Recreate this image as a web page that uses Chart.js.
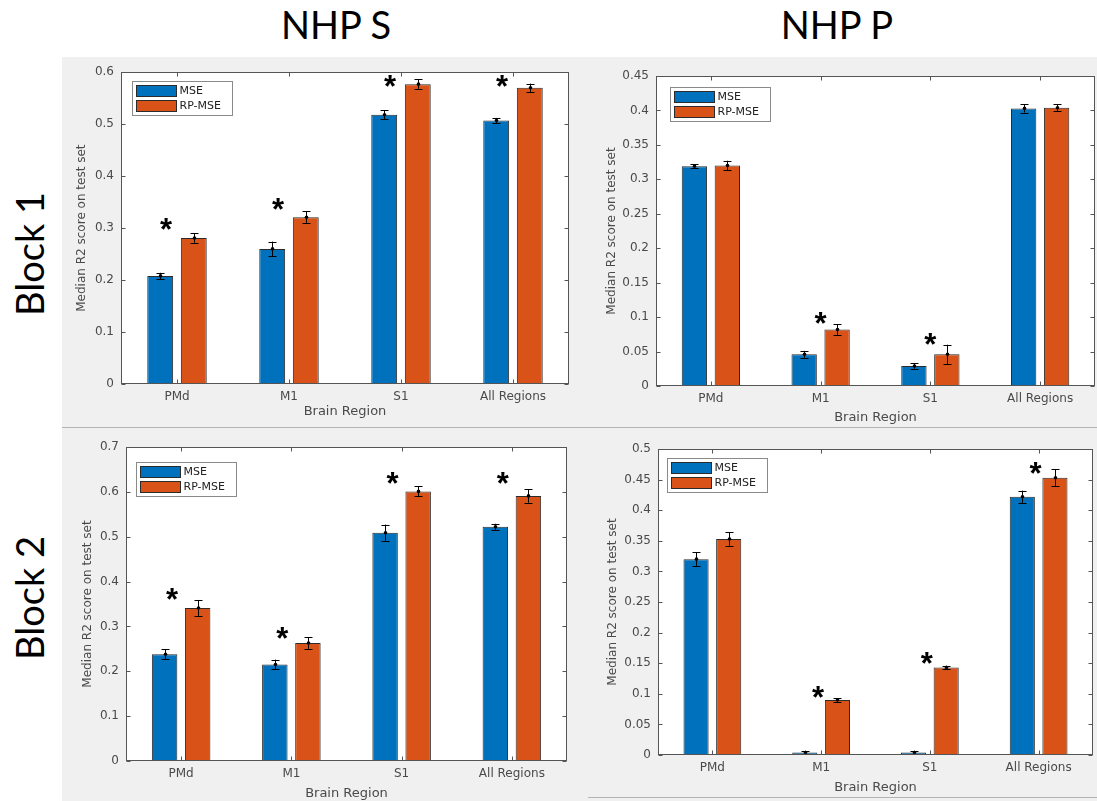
<!DOCTYPE html>
<html><head><meta charset="utf-8">
<script src="https://cdn.jsdelivr.net/npm/chart.js@4/dist/chart.umd.min.js"></script>
<style>
html,body{margin:0;padding:0;background:#fff;}
body{width:1097px;height:801px;position:relative;overflow:hidden;}
#bg{position:absolute;left:62px;top:57px;width:1035px;height:744px;background:#f0f0f0;}
.hl{position:absolute;height:1px;background:#b4b4b4;}
.big{position:absolute;font-family:Lato,"Open Sans",sans-serif;font-size:38px;color:#000;white-space:nowrap;line-height:1;}
.rot{transform:translate(-50%,-50%) rotate(-90deg);}
.hz{transform:translate(-50%,-50%);}
canvas{position:absolute;}
</style></head><body>
<div id="bg"></div>
<div class="hl" style="left:62px;top:427px;width:1035px;"></div>
<div class="hl" style="left:588px;top:797px;width:509px;"></div>
<div class="big hz" style="left:336px;top:24px;">NHP S</div>
<div class="big hz" style="left:837px;top:24px;">NHP P</div>
<div class="big rot" style="left:29px;top:254px;">Block 1</div>
<div class="big rot" style="left:29px;top:598px;">Block 2</div>
<canvas id="c1"></canvas><canvas id="c2"></canvas><canvas id="c3"></canvas><canvas id="c4"></canvas>
<script>
// ---------- data ----------
const categories = ['PMd', 'M1', 'S1', 'All Regions'];
const seriesLabels = ['MSE', 'RP-MSE'];
const xTitle = 'Brain Region';
const yTitle = 'Median R2 score on test set';

// NHP S, Block 1
const sB1Mse    = [0.208, 0.260, 0.518, 0.507];
const sB1MseErr = [0.006, 0.014, 0.009, 0.005];
const sB1Rp     = [0.281, 0.321, 0.577, 0.570];
const sB1RpErr  = [0.009, 0.011, 0.009, 0.008];
const sB1Stars  = [0.307, 0.346, 0.584, 0.584];
const sB1Max = 0.6, sB1Step = 0.1;

// NHP P, Block 1
const pB1Mse    = [0.319, 0.046, 0.029, 0.403];
const pB1MseErr = [0.003, 0.005, 0.004, 0.006];
const pB1Rp     = [0.320, 0.082, 0.046, 0.404];
const pB1RpErr  = [0.007, 0.008, 0.014, 0.005];
const pB1Stars  = [null, 0.099, 0.068, null];
const pB1Max = 0.45, pB1Step = 0.05;

// NHP S, Block 2
const sB2Mse    = [0.238, 0.215, 0.509, 0.522];
const sB2MseErr = [0.011, 0.011, 0.018, 0.007];
const sB2Rp     = [0.341, 0.263, 0.601, 0.591];
const sB2RpErr  = [0.018, 0.013, 0.011, 0.015];
const sB2Stars  = [0.372, 0.285, 0.631, 0.631];
const sB2Max = 0.7, sB2Step = 0.1;

// NHP P, Block 2
const pB2Mse    = [0.320, 0.004, 0.004, 0.422];
const pB2MseErr = [0.011, 0.003, 0.003, 0.010];
const pB2Rp     = [0.353, 0.090, 0.143, 0.453];
const pB2RpErr  = [0.011, 0.003, 0.003, 0.014];
const pB2Stars  = [null, 0.103, 0.158, 0.469];
const pB2Max = 0.5, pB2Step = 0.05;

// ---------- style / layout ----------
const BLUE = '#0072BD', ORANGE = '#D95319', EDGE = '#2b2b2b';
const AXIS = '#555555', TXT = '#4a4a4a';
const FONT = '"DejaVu Sans", Verdana, sans-serif';
const SFONT = '"Liberation Sans", Arial, sans-serif';

const panels = [
  {id:'c1', box:[62,58,526,367],  pad:{left:9, top:12, right:19, bottom:3}, yW:50, xH:38, tBottom:3,
   mse:sB1Mse, mseErr:sB1MseErr, rp:sB1Rp, rpErr:sB1RpErr, stars:sB1Stars, max:sB1Max, step:sB1Step, starDx:-11, leg:[11,9]},
  {id:'c2', box:[590,58,507,367], pad:{left:11, top:18, right:2, bottom:0}, yW:55, xH:39, tBottom:0,
   mse:pB1Mse, mseErr:pB1MseErr, rp:pB1Rp, rpErr:pB1RpErr, stars:pB1Stars, max:pB1Max, step:pB1Step, starDx:0, leg:[14,11]},
  {id:'c3', box:[62,430,528,371], pad:{left:15, top:17, right:23, bottom:0}, yW:49, xH:40, tBottom:0,
   mse:sB2Mse, mseErr:sB2MseErr, rp:sB2Rp, rpErr:sB2RpErr, stars:sB2Stars, max:sB2Max, step:sB2Step, starDx:-9, leg:[10,15]},
  {id:'c4', box:[590,430,507,371], pad:{left:12, top:19, right:4, bottom:3}, yW:56, xH:43, tBottom:3,
   mse:pB2Mse, mseErr:pB2MseErr, rp:pB2Rp, rpErr:pB2RpErr, stars:pB2Stars, max:pB2Max, step:pB2Step, starDx:-3, leg:[9,9]}
];

const deco = {
  id: 'deco',
  beforeDraw(chart) {
    const a = chart.chartArea, ctx = chart.ctx;
    ctx.save(); ctx.fillStyle = '#ffffff';
    ctx.fillRect(a.left, a.top, a.right - a.left, a.bottom - a.top);
    ctx.restore();
  },
  afterDatasetsDraw(chart, args, o) {
    const ctx = chart.ctx, a = chart.chartArea, ys = chart.scales.y, xs = chart.scales.x;
    ctx.save();
    // error bars
    o.errs.forEach((errArr, di) => {
      const meta = chart.getDatasetMeta(di);
      const vals = chart.data.datasets[di].data;
      meta.data.forEach((bar, j) => {
        const x = Math.round(bar.x) + 0.5;
        const y0 = ys.getPixelForValue(vals[j] - errArr[j]);
        const y1 = ys.getPixelForValue(vals[j] + errArr[j]);
        ctx.strokeStyle = '#000'; ctx.lineWidth = 1;
        ctx.beginPath();
        ctx.moveTo(x, y0); ctx.lineTo(x, y1);
        ctx.moveTo(x - 4, Math.round(y0) + 0.5); ctx.lineTo(x + 4, Math.round(y0) + 0.5);
        ctx.moveTo(x - 4, Math.round(y1) + 0.5); ctx.lineTo(x + 4, Math.round(y1) + 0.5);
        ctx.stroke();
        ctx.fillStyle = '#000';
        ctx.beginPath(); ctx.arc(x, ys.getPixelForValue(vals[j]), 1.8, 0, Math.PI * 2); ctx.fill();
      });
    });
    // axes box with inward ticks
    const L = Math.round(a.left) + 0.5, R = Math.round(a.right) - 0.5;
    const T = Math.round(a.top) + 0.5, B = Math.round(a.bottom) - 0.5;
    ctx.strokeStyle = AXIS; ctx.lineWidth = 1;
    ctx.strokeRect(L, T, R - L, B - T);
    ctx.beginPath();
    ys.ticks.forEach(t => {
      const y = Math.round(ys.getPixelForValue(t.value)) + 0.5;
      ctx.moveTo(L, y); ctx.lineTo(L + 4, y);
      ctx.moveTo(R, y); ctx.lineTo(R - 4, y);
    });
    xs.ticks.forEach((t, i) => {
      const x = Math.round(xs.getPixelForTick(i)) + 0.5;
      ctx.moveTo(x, T); ctx.lineTo(x, T + 4);
      ctx.moveTo(x, B); ctx.lineTo(x, B - 4);
    });
    ctx.stroke();
    // significance stars
    ctx.fillStyle = '#000';
    ctx.font = 'bold 31px ' + SFONT;
    ctx.textAlign = 'center'; ctx.textBaseline = 'alphabetic';
    const m = ctx.measureText('*');
    const off = (m.actualBoundingBoxAscent - m.actualBoundingBoxDescent) / 2;
    const m0 = chart.getDatasetMeta(0), m1 = chart.getDatasetMeta(1);
    o.stars.forEach((s, j) => {
      if (s === null) return;
      const x = (m0.data[j].x + m1.data[j].x) / 2 + o.starDx;
      ctx.fillText('*', x, ys.getPixelForValue(s) + off);
    });
    // legend
    const lx = Math.round(a.left + o.leg[0]) + 0.5, ly = Math.round(a.top + o.leg[1]) + 0.5;
    const lw = 100, lh = 34;
    ctx.fillStyle = '#ffffff'; ctx.fillRect(lx, ly, lw, lh);
    ctx.strokeStyle = '#8a8a8a'; ctx.strokeRect(lx, ly, lw, lh);
    ctx.font = '11px ' + FONT; ctx.textAlign = 'left'; ctx.textBaseline = 'middle';
    chart.data.datasets.forEach((ds, i) => {
      const sy = ly + 4 + i * 15;
      ctx.fillStyle = ds.backgroundColor;
      ctx.fillRect(lx + 4, sy, 40, 11);
      ctx.strokeStyle = EDGE; ctx.strokeRect(lx + 4, sy, 40, 11);
      ctx.fillStyle = '#222';
      ctx.fillText(ds.label, lx + 47, sy + 6);
    });
    ctx.restore();
  }
};

panels.forEach(p => {
  const cv = document.getElementById(p.id);
  cv.style.left = p.box[0] + 'px'; cv.style.top = p.box[1] + 'px';
  cv.width = p.box[2]; cv.height = p.box[3];
  cv.style.width = p.box[2] + 'px'; cv.style.height = p.box[3] + 'px';
  new Chart(cv.getContext('2d'), {
    type: 'bar',
    plugins: [deco],
    data: {
      labels: categories,
      datasets: [
        {label: seriesLabels[0], data: p.mse, backgroundColor: BLUE, borderColor: EDGE, borderWidth: 1, borderSkipped: false,
         categoryPercentage: 0.6, barPercentage: 0.77},
        {label: seriesLabels[1], data: p.rp, backgroundColor: ORANGE, borderColor: EDGE, borderWidth: 1, borderSkipped: false,
         categoryPercentage: 0.6, barPercentage: 0.77}
      ]
    },
    options: {
      responsive: false, animation: false, devicePixelRatio: 1,
      layout: {padding: p.pad},
      plugins: {
        legend: {display: false}, tooltip: {enabled: false},
        deco: {errs: [p.mseErr, p.rpErr], stars: p.stars, starDx: p.starDx, leg: p.leg}
      },
      scales: {
        x: {
          type: 'category', offset: true,
          grid: {display: false, drawTicks: false}, border: {display: false},
          ticks: {padding: 6, color: TXT, font: {family: FONT, size: 12}, maxRotation: 0, autoSkip: false},
          title: {display: true, text: xTitle, color: TXT, font: {family: FONT, size: 13}, padding: {top: 0, bottom: p.tBottom}},
          afterFit: s => { s.height = p.xH; }
        },
        y: {
          min: 0, max: p.max,
          grid: {display: false, drawTicks: false}, border: {display: false},
          ticks: {stepSize: p.step, padding: 7, color: TXT, font: {family: FONT, size: 12},
                  callback: v => String(+Number(v).toFixed(2))},
          title: {display: true, text: yTitle, color: TXT, font: {family: FONT, size: 12}, padding: {top: 4, bottom: 4}},
          afterFit: s => { s.width = p.yW; }
        }
      }
    }
  });
});
</script>
</body></html>
